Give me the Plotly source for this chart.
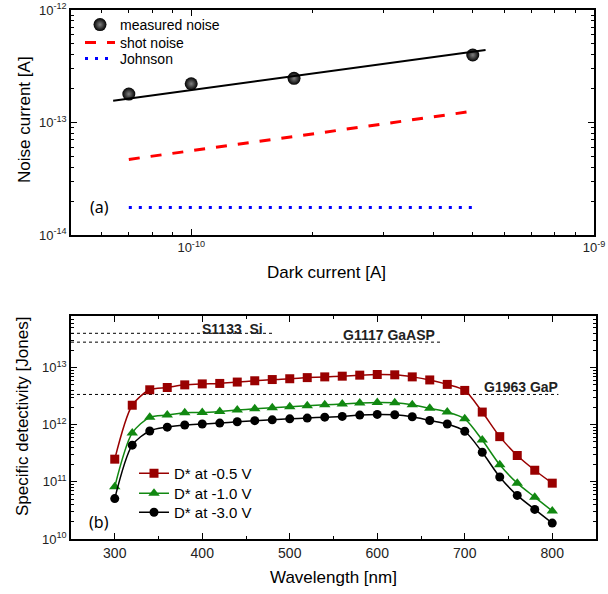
import numpy as np
import plotly.graph_objects as go

W, H = 608, 594
def px(x): return x / W
def py(y): return 1 - y / H

# ---------- Panel (a) data ----------
dark_current = [7.0e-11, 1.0e-10, 1.8e-10, 5.0e-10]
measured_noise = [1.79e-13, 2.21e-13, 2.47e-13, 3.98e-13]
fit_x = [6.4e-11, 5.38e-10]
fit_y = [1.56e-13, 4.41e-13]
shot_noise = [4.7e-14, 5.6e-14, 7.5e-14, 1.26e-13]
johnson_noise = [1.76e-14, 1.76e-14, 1.76e-14, 1.76e-14]

# ---------- Panel (b) data ----------
wavelength = [300, 320, 340, 360, 380, 400, 420, 440, 460, 480, 500, 520, 540,
              560, 580, 600, 620, 640, 660, 680, 700, 720, 740, 760, 780, 800]
d_05 = [2.5e11, 2.2e12, 4.1e12, 4.5e12, 5.0e12, 5.2e12, 5.3e12, 5.6e12, 5.9e12,
        6.2e12, 6.4e12, 6.7e12, 6.9e12, 7.1e12, 7.4e12, 7.6e12, 7.5e12, 6.9e12,
        6.1e12, 5.1e12, 4.0e12, 1.67e12, 6.2e11, 2.9e11, 1.6e11, 9.5e10]
d_10 = [8.2e10, 7.2e11, 1.35e12, 1.48e12, 1.63e12, 1.64e12, 1.71e12, 1.81e12,
        1.91e12, 1.99e12, 2.07e12, 2.15e12, 2.24e12, 2.31e12, 2.40e12, 2.46e12,
        2.43e12, 2.24e12, 1.94e12, 1.67e12, 1.27e12, 5.4e11, 1.99e11, 9.5e10,
        5.4e10, 3.1e10]
d_30 = [5.1e10, 4.4e11, 7.8e11, 9.1e11, 9.9e11, 1.03e12, 1.07e12, 1.13e12,
        1.18e12, 1.22e12, 1.27e12, 1.31e12, 1.36e12, 1.40e12, 1.48e12, 1.52e12,
        1.50e12, 1.38e12, 1.19e12, 1.03e12, 7.7e11, 3.3e11, 1.22e11, 5.8e10,
        3.3e10, 1.9e10]
ref_names = ["S1133  Si", "G1117 GaASP", "G1963 GaP"]
ref_values = [4.0e13, 2.8e13, 3.4e12]
ref_end = [482, 675, 807]
ref_label_x = [434, 613, 764]

FONT = "Liberation Sans, Arial, sans-serif"

fig = go.Figure()

# Panel (a) traces
fig.add_trace(go.Scatter(
    x=dark_current, y=measured_noise, mode="markers", name="measured noise",
    marker=dict(size=13, color="black", line=dict(width=0),
                gradient=dict(type="radial", color="#808080")),
    xaxis="x", yaxis="y", legend="legend"))
fig.add_trace(go.Scatter(
    x=fit_x, y=fit_y, mode="lines", line=dict(color="black", width=2),
    showlegend=False, xaxis="x", yaxis="y"))
fig.add_trace(go.Scatter(
    x=dark_current, y=shot_noise, mode="lines", name="shot noise",
    line=dict(color="red", width=3, dash="11px,11px"),
    xaxis="x", yaxis="y", legend="legend2"))
fig.add_trace(go.Scatter(
    x=dark_current, y=johnson_noise, mode="lines", name="Johnson",
    line=dict(color="blue", width=3, dash="3px,7px"),
    xaxis="x", yaxis="y", legend="legend3"))

# Panel (b) reference lines
for name, val, end in zip(ref_names, ref_values, ref_end):
    fig.add_trace(go.Scatter(
        x=[250, end], y=[val, val], mode="lines",
        line=dict(color="black", width=1, dash="3px,3px"),
        showlegend=False, xaxis="x2", yaxis="y2"))

series = [("D* at -0.5 V", d_05, "#990000", "square", 9, "legend4"),
          ("D* at -1.0 V", d_10, "#118811", "triangle-up", 10, "legend5"),
          ("D* at -3.0 V", d_30, "black", "circle", 9, "legend6")]
for name, vals, col, sym, sz, lg in series:
    fig.add_trace(go.Scatter(
        x=wavelength, y=vals, mode="lines+markers", name=name,
        line=dict(color=col, width=1.5, shape="spline", smoothing=0.8),
        marker=dict(color=col, symbol=sym, size=sz, line=dict(width=0)),
        xaxis="x2", yaxis="y2", legend=lg))

def decade_minor(lo, hi):
    return [m * 10.0 ** e for e in range(lo, hi) for m in range(2, 10)]

axis_common = dict(showline=True, linecolor="black", linewidth=1.5, mirror="allticks",
                   ticks="inside", ticklen=6, tickwidth=1, tickcolor="black",
                   showgrid=False, zeroline=False, automargin=False,
                   tickfont=dict(family=FONT, size=13, color="#222222"))

def legend_at(x, yc, size, off):
    return dict(x=px(x), y=py(yc - off), xanchor="left", yanchor="top",
                bgcolor="rgba(0,0,0,0)", borderwidth=0,
                font=dict(family=FONT, size=size, color="black"))

fig.update_layout(
    width=W, height=H, margin=dict(l=0, r=0, t=0, b=0, autoexpand=False),
    paper_bgcolor="white", plot_bgcolor="white",
    font=dict(family=FONT, color="black"),
    xaxis=dict(domain=[px(71), px(594)], type="log",
               range=[np.log10(5.03e-11), -9], anchor="y",
               tickvals=[1e-10, 1e-9], ticktext=["10<sup>-10</sup>", "10<sup>-9</sup>"],
               minor=dict(tickvals=decade_minor(-11, -9), ticks="inside", ticklen=3,
                          tickcolor="black", showgrid=False),
               **axis_common),
    yaxis=dict(domain=[py(235), py(10)], type="log", range=[-14, -12], anchor="x",
               tickvals=[1e-14, 1e-13, 1e-12],
               ticktext=["10<sup>-14</sup>", "10<sup>-13</sup>", "10<sup>-12</sup>"],
               minor=dict(tickvals=decade_minor(-14, -12), ticks="inside", ticklen=3,
                          tickcolor="black", showgrid=False),
               **axis_common),
    xaxis2=dict(domain=[px(71), px(596)], range=[250, 850], anchor="y2",
                tickvals=[300, 400, 500, 600, 700, 800],
                minor=dict(tickvals=[250, 350, 450, 550, 650, 750, 850], ticks="inside",
                           ticklen=3, tickcolor="black", showgrid=False),
                **axis_common),
    yaxis2=dict(domain=[py(539), py(316)], type="log", range=[10, 13.905], anchor="x2",
                tickvals=[1e10, 1e11, 1e12, 1e13],
                ticktext=["10<sup>10</sup>", "10<sup>11</sup>", "10<sup>12</sup>", "10<sup>13</sup>"],
                minor=dict(tickvals=decade_minor(10, 14), ticks="inside", ticklen=3,
                           tickcolor="black", showgrid=False),
                **axis_common),
    legend=legend_at(80, 24, 14, 15),
    legend2=legend_at(80, 42, 14, 15),
    legend3=legend_at(80, 58, 14, 15),
    legend4=legend_at(134, 473, 15, 16),
    legend5=legend_at(134, 493, 15, 16),
    legend6=legend_at(134, 512, 15, 16),
)
fig.update_xaxes(tickfont=dict(family=FONT, size=14, color="#222222"), selector=dict(anchor="y2"))

ann = [
    dict(text="Noise current [A]", x=px(25), y=py(120), textangle=-90, size=17),
    dict(text="Dark current [A]", x=px(326), y=py(272), textangle=0, size=17),
    dict(text="Specific detectivity [Jones]", x=px(22), y=py(417), textangle=-90, size=17),
    dict(text="Wavelength [nm]", x=px(333), y=py(577), textangle=0, size=17),
]
for a in ann:
    fig.add_annotation(text=a["text"], x=a["x"], y=a["y"], xref="paper", yref="paper",
                       xanchor="center", yanchor="middle",
                       textangle=a["textangle"], showarrow=False,
                       font=dict(family=FONT, size=a["size"], color="black"))
for lab, yy in [("(a)", 207), ("(b)", 522)]:
    fig.add_annotation(text=lab, x=px(99), y=py(yy), xref="paper", yref="paper",
                       xanchor="center", yanchor="middle",
                       showarrow=False, font=dict(family="Noto Sans", size=16, color="black"))

shifts = [4, 7, 7]
for name, val, lx, sh in zip(ref_names, ref_values, ref_label_x, shifts):
    fig.add_annotation(text="<b>" + name + "</b>", x=lx, y=np.log10(val), xref="x2", yref="y2",
                       xanchor="center", yanchor="middle",
                       yshift=sh, showarrow=False,
                       font=dict(family=FONT, size=14, color="#222222"))

fig.write_html("out.html")
